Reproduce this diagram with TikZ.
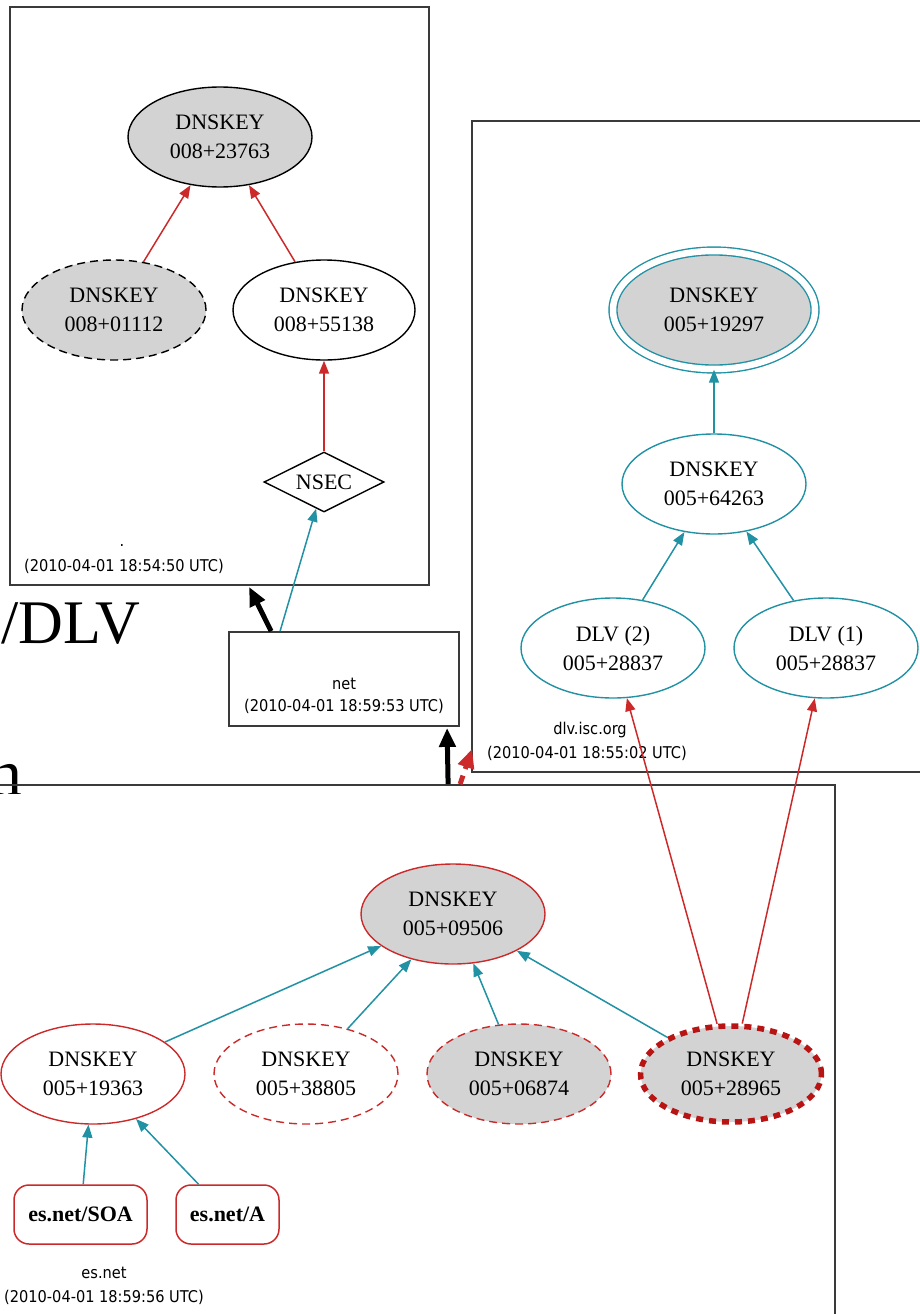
\documentclass[tikz,border=0pt]{standalone}
\usepackage{fontspec}
\setmainfont{Liberation Serif}
\newfontfamily\lblfamily{DejaVu Sans Condensed}
\usetikzlibrary{arrows.meta,shapes.geometric,calc}

\definecolor{keyteal}{HTML}{2191A4}
\definecolor{keyred}{HTML}{CC2A2A}
\definecolor{darkred}{HTML}{B81414}
\definecolor{keygrey}{HTML}{D3D3D3}
\definecolor{boxgrey}{HTML}{3A3A3A}

\newcommand{\keyfont}{\fontsize{22}{29}\selectfont}
\newcommand{\lblfont}{\lblfamily\fontsize{16.2}{23}\selectfont}

\begin{document}
\begin{tikzpicture}[x=1pt,y=-1pt,
  key/.style={ellipse, draw=black, line width=1.4pt, minimum width=184pt,
    minimum height=100pt, inner sep=0pt, align=center, font=\keyfont},
  grey/.style={fill=keygrey},
  tealkey/.style={key, draw=keyteal},
  redkey/.style={key, draw=keyred},
  dashkey/.style={dash pattern=on 8pt off 5pt},
  cluster/.style={rectangle, draw=boxgrey, line width=1.8pt, inner sep=0pt},
  rrset/.style={rectangle, rounded corners=15pt, draw=keyred, line width=1.5pt,
    inner sep=0pt, minimum height=59pt, font=\keyfont\bfseries},
  lbl/.style={font=\lblfont, align=center, inner sep=0pt},
  tealedge/.style={draw=keyteal, line width=1.5pt, -{Triangle[length=13pt,width=10pt]}},
  rededge/.style={draw=keyred, line width=1.5pt, -{Triangle[length=13pt,width=10pt]}},
  deleg/.style={line width=5pt, -{Triangle[length=19pt,width=16pt]}},
]
\useasboundingbox (0,0) rectangle (920,1314);
\begin{scope}
\clip (0,0) rectangle (920,1314);

% background lettering
\node[anchor=base west, inner sep=0pt, font=\fontsize{62}{62}\selectfont] (dlvword) at (1,643) {/DLV};
\begin{scope}
  \clip (-20,700) rectangle (60,793);
  \node[anchor=base west, inner sep=0pt, font=\fontsize{66}{66}\selectfont] (nword) at (-11,795) {n};
\end{scope}

% zone boxes
\node[cluster, minimum width=419pt, minimum height=578pt] (root) at (219.5,296) {};
\node[cluster, minimum width=230pt, minimum height=94pt] (net) at (344,679) {};
\node[cluster, minimum width=468pt, minimum height=651pt] (dlv) at (706,446.5) {};
\node[cluster, minimum width=855pt, minimum height=555pt] (esnet) at (407.5,1062.5) {};

% zone labels
\node[lbl] (rootname) at (122,545) {.};
\node[lbl] (roottime) at (124,566) {(2010-04-01 18:54:50 UTC)};
\node[lbl] (netname) at (344,684) {net};
\node[lbl] (nettime) at (344,706) {(2010-04-01 18:59:53 UTC)};
\node[lbl] (dlvname) at (590,730) {dlv.isc.org};
\node[lbl] (dlvtime) at (587,753) {(2010-04-01 18:55:02 UTC)};
\node[lbl] (esname) at (104,1273) {es.net};
\node[lbl] (estime) at (104,1297) {(2010-04-01 18:59:56 UTC)};

% root zone
\node[key, grey] (k23763) at (220,137) {DNSKEY\\008+23763};
\node[key, grey, dashkey] (k01112) at (114,310) {DNSKEY\\008+01112};
\node[key, minimum width=182pt] (k55138) at (324,310) {DNSKEY\\008+55138};
\node[diamond, draw=black, line width=1.4pt, inner sep=0pt, aspect=2,
  minimum width=120pt, minimum height=60pt, font=\keyfont] (nsec) at (324,482) {NSEC};

% dlv.isc.org zone
\node[tealkey, grey, double=white, double distance=6.5pt,
  minimum width=202pt, minimum height=118pt] (k19297) at (714,310) {DNSKEY\\005+19297};
\node[tealkey] (k64263) at (714,484) {DNSKEY\\005+64263};
\node[tealkey] (dlv2) at (613,648) {DLV (2)\\005+28837};
\node[tealkey] (dlv1) at (826,648) {DLV (1)\\005+28837};

% es.net zone
\node[redkey, grey] (k09506) at (453,914) {DNSKEY\\005+09506};
\node[redkey] (k19363) at (93,1074) {DNSKEY\\005+19363};
\node[redkey, dashkey] (k38805) at (306,1074) {DNSKEY\\005+38805};
\node[redkey, grey, dashkey] (k06874) at (519,1074) {DNSKEY\\005+06874};
\node[key, grey, draw=darkred, line width=5.5pt, dash pattern=on 7pt off 6pt,
  minimum width=181pt, minimum height=96pt] (k28965) at (731,1074) {DNSKEY\\005+28965};
\node[rrset, minimum width=133pt] (soa) at (80.5,1214.5) {es.net/SOA};
\node[rrset, minimum width=103pt] (arec) at (227.5,1214.5) {es.net/A};

% signatures inside the root zone
\draw[rededge] (k01112) -- (k23763);
\draw[rededge] (k55138) -- (k23763);
\draw[rededge] (nsec) -- (k55138);

% dlv.isc.org chain
\draw[tealedge] (k64263) -- (k19297);
\draw[tealedge] (dlv2) -- (k64263);
\draw[tealedge] (dlv1) -- (k64263);

% es.net chain
\draw[tealedge] (k19363) -- (k09506);
\draw[tealedge] (k38805) -- (k09506);
\draw[tealedge] (k06874) -- (k09506);
\draw[tealedge] (k28965) -- (k09506);
\draw[tealedge] (soa) -- (k19363);
\draw[tealedge] (arec) -- (k19363);
\draw[rededge] (k28965) -- (dlv2);
\draw[rededge] (k28965) -- (dlv1);

% delegations between zones
\draw[tealedge] ($(net.north west)+(52,0)$) -- (nsec);
\draw[deleg] ($(net.north west)+(43,0)$) -- ($(root.south west)+(240,1)$);
\draw[deleg] ($(esnet.north west)+(469,0)$) -- ($(net.south west)+(219,1)$);
\draw[deleg, draw=keyred, dash pattern=on 9pt off 7pt]
  ($(esnet.north west)+(481,0)$) -- ($(dlv.south west)+(1,-24)$);
\end{scope}
\end{tikzpicture}
\end{document}
